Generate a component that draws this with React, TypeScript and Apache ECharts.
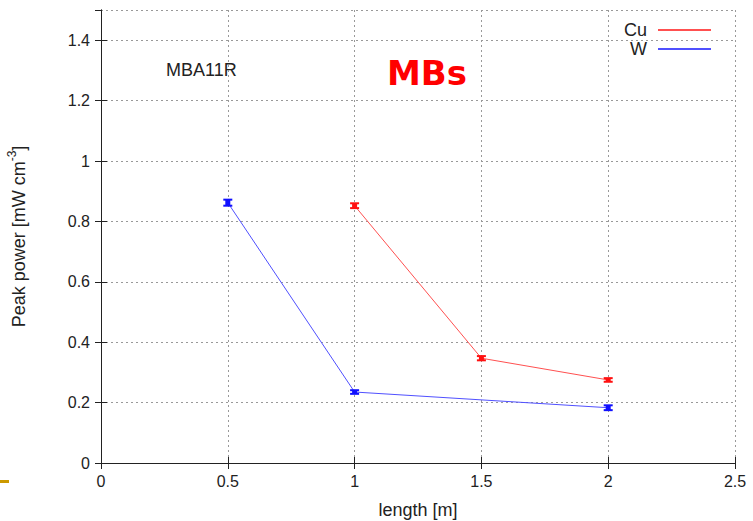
import React, { useEffect, useRef } from "react";
import * as echarts from "echarts";

const xTicks = [0, 0.5, 1, 1.5, 2, 2.5];
const cuX = [1, 1.5, 2];
const cuY = [0.852, 0.347, 0.275];
const cuErr = [0.008, 0.007, 0.006];
const wX = [0.5, 1, 2];
const wY = [0.862, 0.235, 0.183];
const wErr = [0.01, 0.006, 0.008];

const FONT = "Liberation Sans, Arial, sans-serif";

function errData(xs: number[], ys: number[], es: number[]) {
  return xs.map((x, i) => [x, ys[i], ys[i] - es[i], ys[i] + es[i]]);
}

function errSeries(name: string, color: string, data: number[][]) {
  return {
    type: "custom",
    name: name + "_err",
    data,
    z: 5,
    renderItem: (params: any, api: any) => {
      const x = api.value(0);
      const lo = api.coord([x, api.value(2)]);
      const hi = api.coord([x, api.value(3)]);
      const cx = lo[0];
      const style = { stroke: color, lineWidth: 2 };
      return {
        type: "group",
        children: [
          { type: "line", shape: { x1: cx, y1: lo[1], x2: cx, y2: hi[1] }, style: { stroke: color, lineWidth: 5 } },
          { type: "line", shape: { x1: cx - 4.5, y1: lo[1], x2: cx + 4.5, y2: lo[1] }, style },
          { type: "line", shape: { x1: cx - 4.5, y1: hi[1], x2: cx + 4.5, y2: hi[1] }, style },
        ],
      };
    },
    encode: { x: 0, y: 1 },
    silent: true,
  };
}

export default function App() {
  const ref = useRef<HTMLDivElement>(null);
  useEffect(() => {
    const chart = echarts.init(ref.current!, null, { renderer: "svg" });
    const splitLine = { show: true, lineStyle: { color: "#999", type: [2, 3], width: 1 } };
    const axisLine = { show: true, lineStyle: { color: "#222", width: 1 } };
    const axisTick = { show: true, inside: true, length: 6, lineStyle: { color: "#222" } };
    chart.setOption({
      animation: false,
      backgroundColor: "#fff",
      grid: { left: 101, right: 18, top: 10, bottom: 58, containLabel: false, outerBoundsMode: "none" },
      legend: {
        orient: "vertical",
        right: 37,
        top: 16,
        align: "right",
        itemWidth: 53,
        itemHeight: 2,
        itemGap: 1,
        icon: "rect",
        data: ["Cu", "W"],
        textStyle: { fontFamily: FONT, fontSize: 18, color: "#222", width: 26, align: "right", padding: [0, 6, 0, 0] },
      },
      xAxis: [
        {
          type: "value",
          min: 0,
          max: 2.5,
          interval: 0.5,
          name: "length [m]",
          nameLocation: "middle",
          nameGap: 38,
          nameTextStyle: { fontFamily: FONT, fontSize: 18, color: "#222" },
          axisLine,
          axisTick,
          splitLine,
          axisLabel: { fontFamily: FONT, fontSize: 16, color: "#222", margin: 10, formatter: (v: number) => String(v) },
        },
        {
          type: "value",
          position: "top",
          min: 0,
          max: 2.5,
          interval: 0.5,
          axisLine,
          axisTick,
          splitLine: { show: false },
          axisLabel: { show: false },
        },
      ],
      yAxis: [
        {
          type: "value",
          min: 0,
          max: 1.5,
          interval: 0.2,
          name: "{a|Peak power [mW cm}{s|-3}{a|]}",
          nameLocation: "middle",
          nameRotate: 90,
          nameGap: 73,
          nameTextStyle: {
            rich: {
              a: { fontFamily: FONT, fontSize: 18, color: "#222", lineHeight: 22, verticalAlign: "bottom" },
              s: { fontFamily: FONT, fontSize: 12, color: "#222", lineHeight: 22, verticalAlign: "top" },
            },
          },
          axisLine,
          axisTick,
          splitLine,
          axisLabel: { fontFamily: FONT, fontSize: 16, color: "#222", margin: 11, showMaxLabel: false, formatter: (v: number) => String(Math.round(v * 10) / 10) },
        },
        {
          type: "value",
          position: "right",
          min: 0,
          max: 1.5,
          interval: 0.2,
          axisLine,
          axisTick,
          splitLine: { show: false },
          axisLabel: { show: false },
        },
      ],
      series: [
        {
          type: "line",
          name: "Cu",
          data: cuX.map((x, i) => [x, cuY[i]]),
          color: "#ff5050",
          lineStyle: { color: "#ff5050", width: 1 },
          showSymbol: false,
          symbol: "none",
          z: 3,
        },
        {
          type: "line",
          name: "W",
          data: wX.map((x, i) => [x, wY[i]]),
          color: "#5050ff",
          lineStyle: { color: "#5050ff", width: 1 },
          showSymbol: false,
          symbol: "none",
          z: 3,
        },
        errSeries("Cu", "#ff1010", errData(cuX, cuY, cuErr)),
        errSeries("W", "#1010ff", errData(wX, wY, wErr)),
      ],
      graphic: [
        { type: "text", left: 166, top: 61, style: { text: "MBA11R", font: `18px ${FONT}`, fill: "#222" } },
        { type: "text", left: 387, top: 56, style: { text: "MBs", font: `bold 34px Verdana, DejaVu Sans, sans-serif`, fill: "#ff0000" } },
        { type: "rect", left: 0, top: 480, shape: { width: 9, height: 3 }, style: { fill: "#cc9900" } },
      ],
    });
    return () => chart.dispose();
  }, []);
  return <div ref={ref} style={{ width: 753, height: 521, position: "absolute", left: 0, top: 0 }} />;
}
